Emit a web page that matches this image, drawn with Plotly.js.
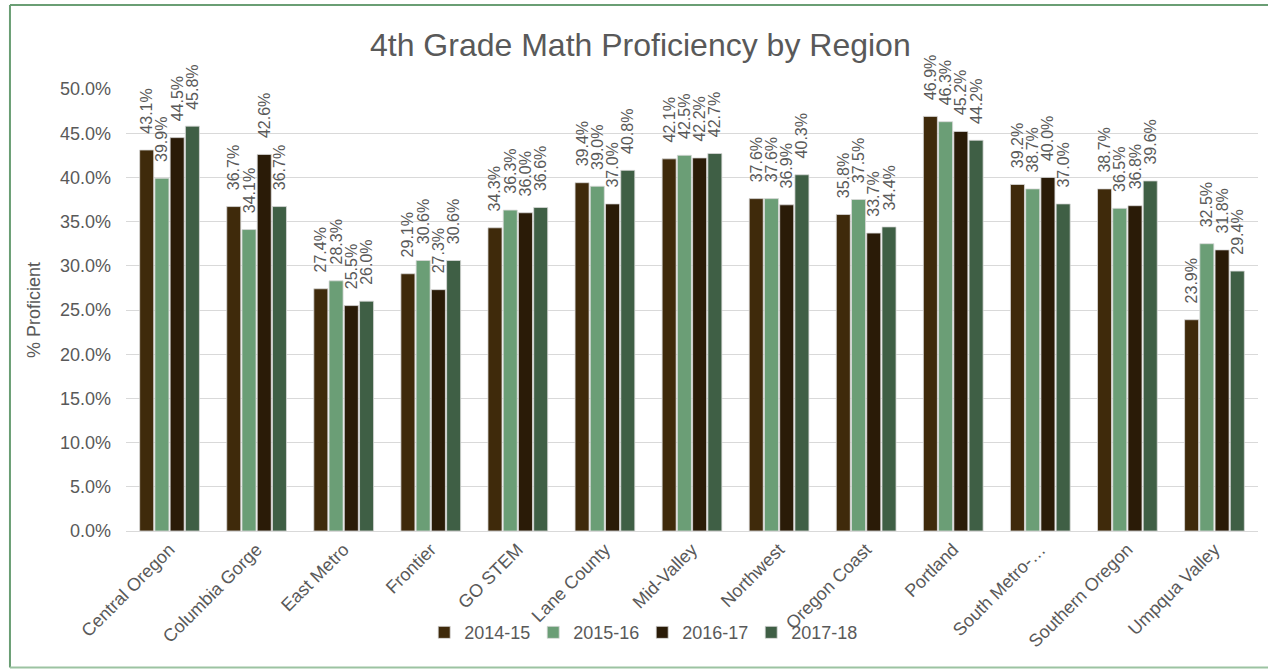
<!DOCTYPE html>
<html>
<head>
<meta charset="utf-8">
<script src="https://cdn.plot.ly/plotly-3.0.1.min.js"></script>
<style>
  body { margin: 0; background: #fff; }
  #myChart { width: 1268px; height: 669px; }
</style>
</head>
<body>
<div id="myChart"></div>
<script>
// regions along the x axis
var regions = [
  "Central Oregon", "Columbia Gorge", "East Metro", "Frontier", "GO STEM",
  "Lane County", "Mid-Valley", "Northwest", "Oregon Coast", "Portland",
  "South Metro-\u2026", "Southern Oregon", "Umpqua Valley"
];

// % proficient per school year
var y2014_15 = [43.1, 36.7, 27.4, 29.1, 34.3, 39.4, 42.1, 37.6, 35.8, 46.9, 39.2, 38.7, 23.9];
var y2015_16 = [39.9, 34.1, 28.3, 30.6, 36.3, 39.0, 42.5, 37.6, 37.5, 46.3, 38.7, 36.5, 32.5];
var y2016_17 = [44.5, 42.6, 25.5, 27.3, 36.0, 37.0, 42.2, 36.9, 33.7, 45.2, 40.0, 36.8, 31.8];
var y2017_18 = [45.8, 36.7, 26.0, 30.6, 36.6, 40.8, 42.7, 40.3, 34.4, 44.2, 37.0, 39.6, 29.4];

var seriesNames = ["2014-15", "2015-16", "2016-17", "2017-18"];
var seriesColors = ["#3f2a0b", "#6b9e76", "#2a1b07", "#3f5f45"];

document.addEventListener("DOMContentLoaded", () => {
  var allSeries = [y2014_15, y2015_16, y2016_17, y2017_18];
  var fontFam = "Liberation Sans, Arial, sans-serif";

  // one bar trace per year; leading nbsp's push the label up off the bar like excel does
  var data = allSeries.map((vals, i) => ({
    type: "bar",
    name: seriesNames[i],
    x: regions,
    y: vals.map((v) => v / 100),
    text: vals.map((v) => "\u00a0\u00a0\u00a0" + v.toFixed(1) + "%"),
    textposition: "outside",
    textangle: -90,
    constraintext: "none",
    cliponaxis: false,
    textfont: { family: fontFam, size: 16, color: "#595959" },
    marker: { color: seriesColors[i], line: { color: "#d9d9d9", width: 0.8 } },
    hoverinfo: "skip",
  }));

  var greenBorder = { color: "#6a9e74", width: 2 };
  var layout = {
    width: 1268,
    height: 669,
    paper_bgcolor: "#ffffff",
    plot_bgcolor: "#ffffff",
    margin: { l: 126, r: 10, t: 89, b: 138 },
    font: { family: fontFam, size: 18, color: "#595959" },
    title: {
      text: "4th Grade Math Proficiency by Region",
      font: { size: 32, color: "#595959" },
      x: 0.505,
      xanchor: "center",
      y: 0.933,
      yref: "container",
      yanchor: "middle",
    },
    barmode: "group",
    bargap: 0.3,
    bargroupgap: 0.08,
    showlegend: true,
    legend: {
      orientation: "h",
      x: 0.456,
      xanchor: "center",
      y: -0.23,
      yanchor: "middle",
      bgcolor: "rgba(0,0,0,0)",
      font: { size: 18, color: "#595959" },
      itemwidth: 30,
      entrywidth: 64,
      traceorder: "normal",
    },
    xaxis: {
      type: "category",
      tickangle: -45,
      tickfont: { size: 18, color: "#595959" },
      showline: true,
      linecolor: "#d9d9d9",
      linewidth: 1,
      ticks: "",
    },
    yaxis: {
      title: { text: "% Proficient", font: { size: 18, color: "#595959" }, standoff: 14 },
      range: [0, 0.5],
      dtick: 0.05,
      tickformat: ".1%",
      gridcolor: "#d9d9d9",
      gridwidth: 1,
      zeroline: false,
      ticks: "",
      ticklabelstandoff: 14,
      tickfont: { size: 18, color: "#595959" },
    },
    // green frame around the chart area
    shapes: [
      { type: "line", xref: "paper", yref: "paper", x0: -0.1025, x1: 1.02, y0: 1.19, y1: 1.19, line: greenBorder },
      { type: "line", xref: "paper", yref: "paper", x0: -0.1025, x1: -0.1025, y0: 1.19, y1: -0.309, line: greenBorder },
      { type: "line", xref: "paper", yref: "paper", x0: -0.1025, x1: 1.02, y0: -0.309, y1: -0.309, line: { color: "#9cc3a2", width: 2 } },
    ],
  };

  const config = { displayModeBar: false, staticPlot: true };
  Plotly.newPlot("myChart", data, layout, config);
});
</script>
</body>
</html>
